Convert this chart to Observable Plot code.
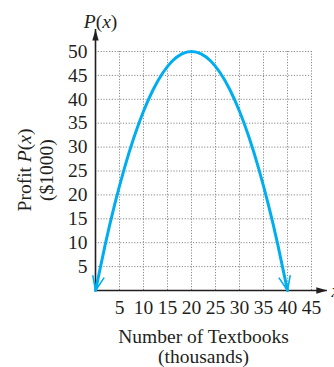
<!DOCTYPE html>
<html>
<head>
<meta charset="utf-8">
<script src="https://cdn.jsdelivr.net/npm/d3@7"></script>
<script src="https://cdn.jsdelivr.net/npm/@observablehq/plot@0.6"></script>
<style>
  html, body { margin: 0; padding: 0; background: #fff; }
  #chart svg { display: block; }
</style>
</head>
<body>
<div id="chart"></div>
<script>
// Number of textbooks sold (thousands) and the resulting profit ($1000)
const textbooks = [0, 2, 4, 6, 8, 10, 12, 14, 16, 18, 20, 22, 24, 26, 28, 30, 32, 34, 36, 38, 40];
const profit    = [0, 9.5, 18, 25.5, 32, 37.5, 42, 45.5, 48, 49.5, 50, 49.5, 48, 45.5, 42, 37.5, 32, 25.5, 18, 9.5, 0];

// Tick labels on each axis
const xTicks = [5, 10, 15, 20, 25, 30, 35, 40, 45];
const yTicks = [5, 10, 15, 20, 25, 30, 35, 40, 45, 50];

// Extent of the plotted grid and of the arrowed axes
const xMax = 45, yMax = 50;
const xAxisEnd = 48.3, yAxisEnd = 54.6;

const curveColor = "#00aeef";
const ink = "#231f20";
const fs = 19.5;

const points = textbooks.map((x, i) => ({x, p: profit[i]}));
const n = points.length;
const ends = [
  {x1: points[1].x, y1: points[1].p, x2: points[0].x, y2: points[0].p},
  {x1: points[n - 2].x, y1: points[n - 2].p, x2: points[n - 1].x, y2: points[n - 1].p}
];

const chart = Plot.plot({
  width: 334,
  height: 367,
  marginLeft: 95,
  marginRight: 23,
  marginTop: 51,
  marginBottom: 77,
  x: {domain: [0, xMax], axis: null},
  y: {domain: [0, yMax], axis: null},
  style: {fontFamily: "'Liberation Serif', 'Times New Roman', serif", fontSize: fs + "px", color: ink, background: "#fff"},
  marks: [
    // dotted grid
    Plot.ruleX(xTicks, {y1: 0, y2: yMax, stroke: "#8a8a8a", strokeWidth: 1, strokeDasharray: "1.2,1.6"}),
    Plot.ruleY(yTicks, {x1: 0, x2: xMax, stroke: "#8a8a8a", strokeWidth: 1, strokeDasharray: "1.2,1.6"}),
    // axes with arrowheads
    Plot.ruleY([0], {x1: 0, x2: xAxisEnd, stroke: ink, strokeWidth: 1.6}),
    Plot.ruleX([0], {y1: 0, y2: yAxisEnd, stroke: ink, strokeWidth: 1.6}),
    Plot.vector([{x: xAxisEnd, y: 0}], {x: "x", y: "y", rotate: 90, anchor: "end", shape: "spike", length: 11, r: 3.2, fill: ink, stroke: "none"}),
    Plot.vector([{x: 0, y: yAxisEnd}], {x: "x", y: "y", rotate: 0, anchor: "end", shape: "spike", length: 11, r: 3.2, fill: ink, stroke: "none"}),
    // tick labels
    Plot.text(yTicks, {x: 0, y: d => d, text: d => String(d), dx: -8, textAnchor: "end", fill: ink, fontSize: fs}),
    Plot.text(xTicks, {x: d => d, y: 0, text: d => String(d), dy: 17, fill: ink, fontSize: fs}),
    // profit curve with arrowheads at both ends
    Plot.line(points, {x: "x", y: "p", stroke: curveColor, strokeWidth: 3, curve: "natural"}),
    Plot.arrow(ends, {x1: "x1", y1: "y1", x2: "x2", y2: "y2", stroke: curveColor, strokeWidth: 1.6, headLength: 14, headAngle: 44}),
    // axis names
    Plot.text(["P(x)"], {frameAnchor: "top-left", dx: 5, dy: -30, lineAnchor: "middle", textAnchor: "middle", fill: ink, fontSize: fs}),
    Plot.text(["x"], {frameAnchor: "bottom-right", dx: 20, dy: 0, lineAnchor: "middle", textAnchor: "start", fill: ink, fontStyle: "italic", fontSize: fs}),
    Plot.text(["Profit P(x)\n($1000)"], {frameAnchor: "left", dx: -61, dy: -1, rotate: -90, lineAnchor: "middle", textAnchor: "middle", lineHeight: 1.13, fill: ink, fontSize: fs}),
    Plot.text(["Number of Textbooks\n(thousands)"], {frameAnchor: "bottom", dy: 56, lineAnchor: "middle", textAnchor: "middle", lineHeight: 1.05, fill: ink, fontSize: fs})
  ]
});

// Set P and x in italics wherever "P(x)" is written
d3.select(chart).selectAll("text, tspan").each(function () {
  if (this.children.length) return;
  const s = this.textContent;
  const i = s.indexOf("P(x)");
  if (i < 0) return;
  const el = d3.select(this);
  el.text(null);
  if (i > 0) el.append("tspan").text(s.slice(0, i));
  el.append("tspan").attr("font-style", "italic").text("P");
  el.append("tspan").text("(");
  el.append("tspan").attr("font-style", "italic").text("x");
  el.append("tspan").text(")" + s.slice(i + 4));
});

document.getElementById("chart").append(chart);
</script>
</body>
</html>
